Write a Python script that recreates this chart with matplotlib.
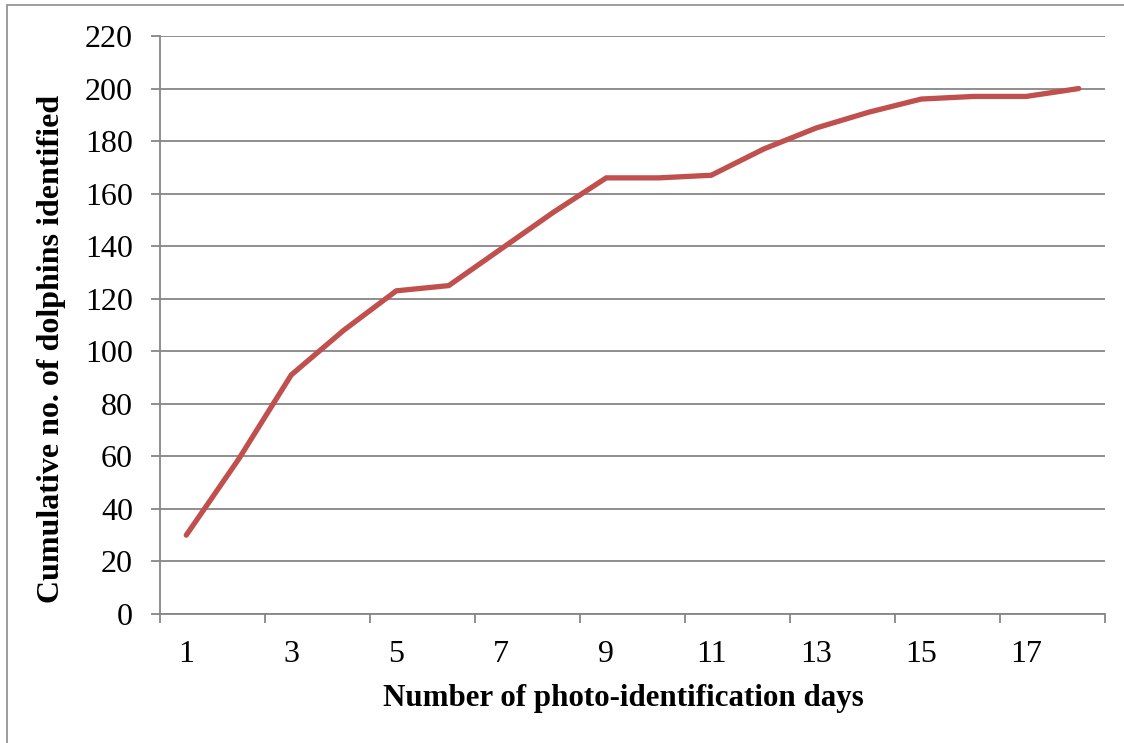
import matplotlib.pyplot as plt
from matplotlib.patches import Rectangle

plt.rcParams['font.family'] = ['Liberation Serif', 'DejaVu Serif']

# cumulative count of identified dolphins per survey day
days = list(range(1, 19))
cumulative = [30, 59, 91, 108, 123, 125, 139, 153, 166, 166, 167, 177, 185, 191, 196, 197, 197, 200]
y_ticks = list(range(0, 221, 20))
x_labels = [str(d) for d in range(1, 19, 2)]

grey = '#868686'

fig = plt.figure(figsize=(11.24, 7.43), dpi=100)
ax = fig.add_axes([160 / 1124, 1 - 614 / 743, 945 / 1124, 578 / 743])

# chart border (only left and top edges fall inside the frame)
fig.patches.append(Rectangle((7 / 1124, -0.1), 1.2, 1.1 - 5 / 743,
                             transform=fig.transFigure, fill=False,
                             edgecolor='#8c8c8c', linewidth=1.2))

ax.plot(days, cumulative, color='#C0504D', linewidth=3.8,
        solid_capstyle='round', solid_joinstyle='miter', zorder=3)

ax.set_xlim(0.5, 18.5)
ax.set_ylim(0, 220)
ax.set_yticks(y_ticks)
ax.grid(axis='y', color=grey, linewidth=1.3)
ax.set_axisbelow(True)

# tick marks between every second category, labels on the odd days
ax.set_xticks([0.5 + 2 * i for i in range(10)])
ax.set_xticklabels([])
ax.set_xticks(list(range(1, 19, 2)), minor=True)
ax.set_xticklabels(x_labels, minor=True)
ax.tick_params(axis='x', which='major', length=6.5, width=1.3, color=grey)
ax.tick_params(axis='x', which='minor', length=0, pad=19, labelsize=23)
ax.tick_params(axis='y', length=6.5, width=1.3, color=grey, pad=13, labelsize=23)

for side in ['top', 'right']:
    ax.spines[side].set_visible(False)
for side in ['left', 'bottom']:
    ax.spines[side].set_color(grey)
    ax.spines[side].set_linewidth(1.3)

ax.set_xlabel('Number of photo-identification days', fontsize=22.3,
              fontweight='bold')
ax.set_ylabel('Cumulative no. of dolphins identified', fontsize=23,
              fontweight='bold')
ax.xaxis.set_label_coords(0.49, -0.121)
ax.yaxis.set_label_coords(-0.1, 0.458)

fig.savefig('out.png', dpi=100)
